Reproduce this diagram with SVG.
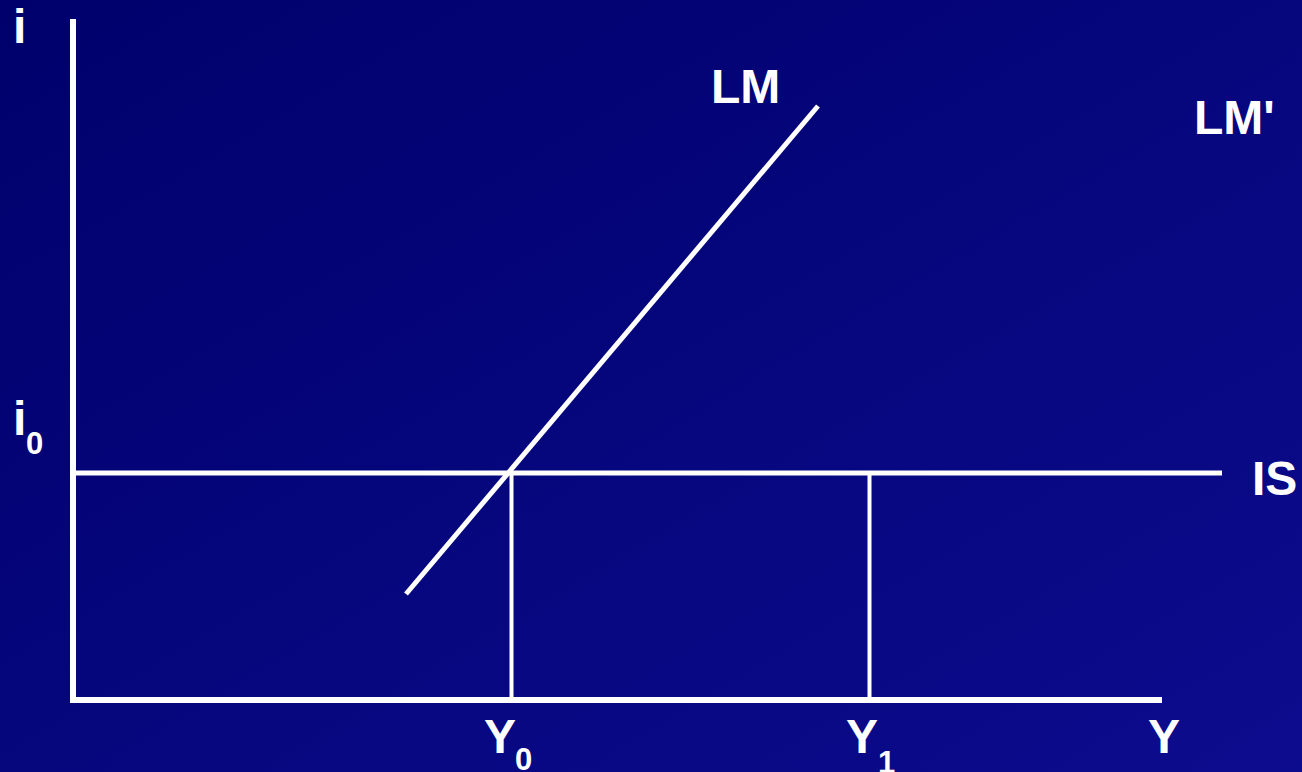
<svg xmlns="http://www.w3.org/2000/svg" width="1302" height="772" viewBox="0 0 1302 772">
  <defs>
    <linearGradient id="bg" x1="0" y1="0" x2="1" y2="1">
      <stop offset="0" stop-color="#00006c"/>
      <stop offset="1" stop-color="#0c0c8e"/>
    </linearGradient>
    <style>
      .ln { stroke: #ffffff; fill: none; }
      .t { font-family: "Liberation Sans", Arial, sans-serif; font-weight: bold; fill: #ffffff; }
      .big { font-size: 48px; }
      .sub { font-size: 31px; }
    </style>
  </defs>
  <rect x="0" y="0" width="1302" height="772" fill="url(#bg)"/>
  <g id="connectors">
    <line class="ln" x1="73" y1="19" x2="73" y2="703" stroke-width="6"/>
    <line class="ln" x1="70" y1="700" x2="1162" y2="700" stroke-width="6"/>
    <line class="ln" x1="73" y1="473" x2="1222" y2="473" stroke-width="5"/>
    <line class="ln" x1="511.5" y1="473" x2="511.5" y2="700" stroke-width="4"/>
    <line class="ln" x1="869.5" y1="473" x2="869.5" y2="700" stroke-width="4"/>
    <line class="ln" x1="406" y1="594" x2="818" y2="106" stroke-width="5"/>
  </g>
  <g id="label-i"><text class="t big" x="13" y="43">i</text></g>
  <g id="label-i0"><text class="t big" x="13" y="435">i</text><text class="t sub" x="26" y="454">0</text></g>
  <g id="label-LM"><text class="t big" x="711" y="103">LM</text></g>
  <g id="label-LMprime"><text class="t big" x="1194" y="134">LM'</text></g>
  <g id="label-IS"><text class="t big" x="1252" y="495">IS</text></g>
  <g id="label-Y0"><text class="t big" x="484" y="753">Y</text><text class="t sub" x="515" y="770">0</text></g>
  <g id="label-Y1"><text class="t big" x="846" y="753">Y</text><text class="t sub" x="878" y="773">1</text></g>
  <g id="label-Y"><text class="t big" x="1148" y="753">Y</text></g>
</svg>
